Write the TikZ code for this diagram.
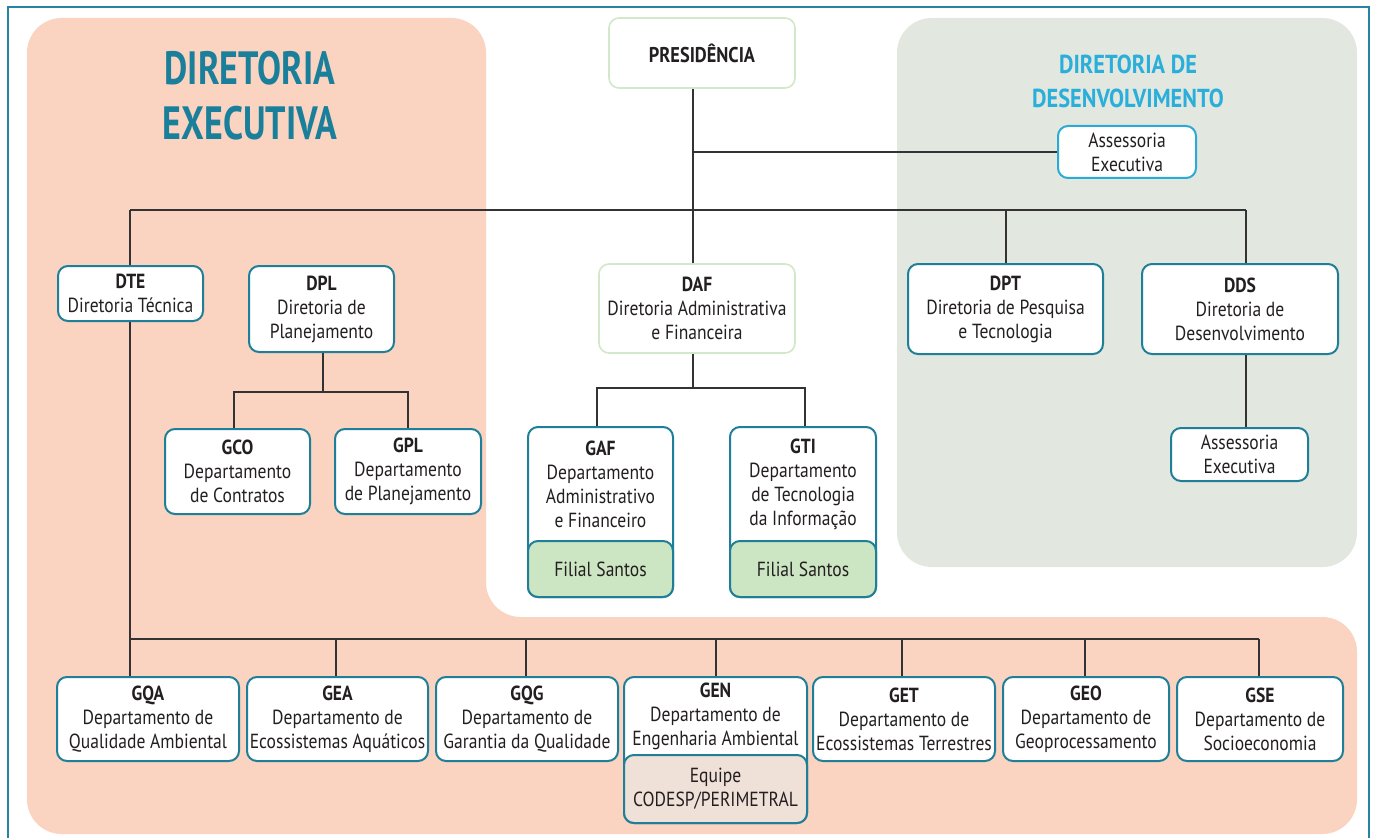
\documentclass[tikz,border=0pt]{standalone}
\usepackage{fontspec}
\setmainfont{PT Sans}[FakeStretch=0.86]
\newfontfamily\titlefont{PT Sans}[FakeStretch=0.77]
\definecolor{pinkbg}{HTML}{FAD3C1}
\definecolor{greenbg}{HTML}{E2E8E0}
\definecolor{framec}{HTML}{2585A0}
\definecolor{boxc}{HTML}{1F7E98}
\definecolor{titleteal}{HTML}{1A7F9A}
\definecolor{titleblue}{HTML}{2AAEDA}
\definecolor{presc}{HTML}{D3E8C8}
\definecolor{assc}{HTML}{2BAAD5}
\definecolor{filialc}{HTML}{CCE5C2}
\definecolor{equipec}{HTML}{EFE0D8}
\definecolor{linec}{HTML}{333333}
\definecolor{txtc}{HTML}{231F20}
\newcommand\fsz{\fontsize{15.3}{18}\selectfont}
\tikzset{
  bx/.style 2 args={minimum width=#1*0.75pt, minimum height=#2*0.75pt},
  box/.style={draw=boxc, line width=1.5pt, fill=white, rounded corners=7.5pt, text=txtc, align=center, inner sep=0pt, font=\fsz},
  lbox/.style={box, draw=presc, line width=1.2pt},
  abox/.style={box, draw=assc},
  sub/.style={box, fill=filialc},
  subq/.style={box, fill=equipec},
  txt/.style={text=txtc, align=center, inner sep=0pt, font=\fsz},
  conn/.style={draw=linec, line width=1.1pt},
}
\begin{document}
\begin{tikzpicture}[x=0.75pt,y=-0.75pt]
\useasboundingbox (0,0) rectangle (1375,838);
\fill[white] (0,0) rectangle (1375,838);
% backgrounds
\fill[pinkbg, rounded corners=26pt] (27,834) -- (27,18) -- (486,18) -- (486,617) -- (1357,617) -- (1357,834) -- cycle;
\fill[greenbg, rounded corners=26pt] (897,18) rectangle (1357,567);
\draw[framec, line width=1.6pt] (8,860) -- (8,7) -- (1369,7) -- (1369,860);
% titles
\node[text=titleteal, font=\fontsize{35}{41}\titlefont\bfseries, align=center, inner sep=0pt] (t1) at (250,96) {DIRETORIA\\EXECUTIVA};
\node[text=titleblue, font=\fontsize{19.5}{25.5}\selectfont\bfseries, align=center, inner sep=0pt] (t2) at (1128,81) {DIRETORIA DE\\DESENVOLVIMENTO};
% nodes
\node[lbox, bx={186}{70}, font=\fontsize{16}{19}\selectfont\bfseries] (pres) at (702,53) {PRESIDÊNCIA};
\node[abox, bx={138}{52}] (ass1) at (1127,152) {Assessoria\\Executiva};
\node[box, bx={145}{55}] (dte) at (130.5,293.5) {\textbf{DTE}\\Diretoria Técnica};
\node[box, bx={145}{86}] (dpl) at (321.5,309) {\textbf{DPL}\\Diretoria de\\Planejamento};
\node[box, bx={145}{85}] (gco) at (237.5,471.5) {\textbf{GCO}\\Departamento\\de Contratos};
\node[box, bx={146}{85}] (gpl) at (408,471.5) {\textbf{GPL}\\Departamento\\de Planejamento};
\node[lbox, bx={196}{89}] (daf) at (697,308.5) {\textbf{DAF}\\Diretoria Administrativa\\e Financeira};
\node[box, bx={145}{170}] (gaf) at (600.5,512) {};
\node[sub, bx={145}{56}] (gafs) at (600.5,569) {Filial Santos};
\node[txt] (gaft) at (600.5,484) {\textbf{GAF}\\Departamento\\Administrativo\\e Financeiro};
\node[box, bx={146}{170}] (gti) at (803,512) {};
\node[sub, bx={146}{56}] (gtis) at (803,569) {Filial Santos};
\node[txt] (gtit) at (803,484) {\textbf{GTI}\\Departamento\\de Tecnologia\\da Informação};
\node[box, bx={195}{90}] (dpt) at (1005.5,309) {\textbf{DPT}\\Diretoria de Pesquisa\\e Tecnologia};
\node[box, bx={196}{90}] (dds) at (1240,309) {\textbf{DDS}\\Diretoria de\\Desenvolvimento};
\node[box, bx={137}{53}] (ass2) at (1239.5,454.5) {Assessoria\\Executiva};
% bottom row
\node[box, bx={182}{84}] (gqa) at (148,719) {\textbf{GQA}\\Departamento de\\Qualidade Ambiental};
\node[box, bx={181}{84}] (gea) at (337.5,719) {\textbf{GEA}\\Departamento de\\Ecossistemas Aquáticos};
\node[box, bx={182}{84}] (gqg) at (527,719) {\textbf{GQG}\\Departamento de\\Garantia da Qualidade};
\node[box, bx={183}{146}] (gen) at (715.5,750) {};
\node[subq, bx={183}{68}] (genq) at (715.5,789) {Equipe\\CODESP/PERIMETRAL};
\node[txt] (gent) at (715.5,716) {\textbf{GEN}\\Departamento de\\Engenharia Ambiental};
\node[box, bx={182}{84}] (get) at (904,719) {\textbf{GET}\\Departamento de\\Ecossistemas Terrestres};
\node[box, bx={166}{84}] (geo) at (1086,719) {\textbf{GEO}\\Departamento de\\Geoprocessamento};
\node[box, bx={166}{84}] (gse) at (1260,719) {\textbf{GSE}\\Departamento de\\Socioeconomia};
% junction coordinates
\coordinate (ja) at (693,152);
\coordinate (jl) at (130,210);
\coordinate (jr) at (1246,210);
\coordinate (jp) at (1006,210);
\coordinate (jd) at (323,392);
\coordinate (jdl) at (234,392);
\coordinate (jdr) at (408,392);
\coordinate (jf) at (693,388);
\coordinate (jfl) at (597,388);
\coordinate (jfr) at (805,388);
\coordinate (jg) at (130,639);
\coordinate (jge) at (1259,639);
\coordinate (j2) at (336,639);
\coordinate (j3) at (526,639);
\coordinate (j4) at (716,639);
\coordinate (j5) at (902,639);
\coordinate (j6) at (1085,639);
% connectors
\draw[conn] (pres.south -| ja) -- (daf.north -| ja);
\draw[conn] (ja) -- (ass1.west);
\draw[conn] (jl) -- (jr);
\draw[conn] (jl) -- (dte.north -| jl);
\draw[conn] (jp) -- (dpt.north -| jp);
\draw[conn] (jr) -- (dds.north -| jr);
\draw[conn] (dds.south -| jr) -- (ass2.north -| jr);
\draw[conn] (dpl.south -| jd) -- (jd);
\draw[conn] (gco.north -| jdl) -- (jdl) -- (jdr) -- (gpl.north -| jdr);
\draw[conn] (daf.south -| jf) -- (jf);
\draw[conn] (gaf.north -| jfl) -- (jfl) -- (jfr) -- (gti.north -| jfr);
\draw[conn] (dte.south -| jg) -- (gqa.north -| jg);
\draw[conn] (jg) -- (jge);
\draw[conn] (j2) -- (gea.north -| j2);
\draw[conn] (j3) -- (gqg.north -| j3);
\draw[conn] (j4) -- (gen.north -| j4);
\draw[conn] (j5) -- (get.north -| j5);
\draw[conn] (j6) -- (geo.north -| j6);
\draw[conn] (jge) -- (gse.north -| jge);
\end{tikzpicture}
\end{document}
